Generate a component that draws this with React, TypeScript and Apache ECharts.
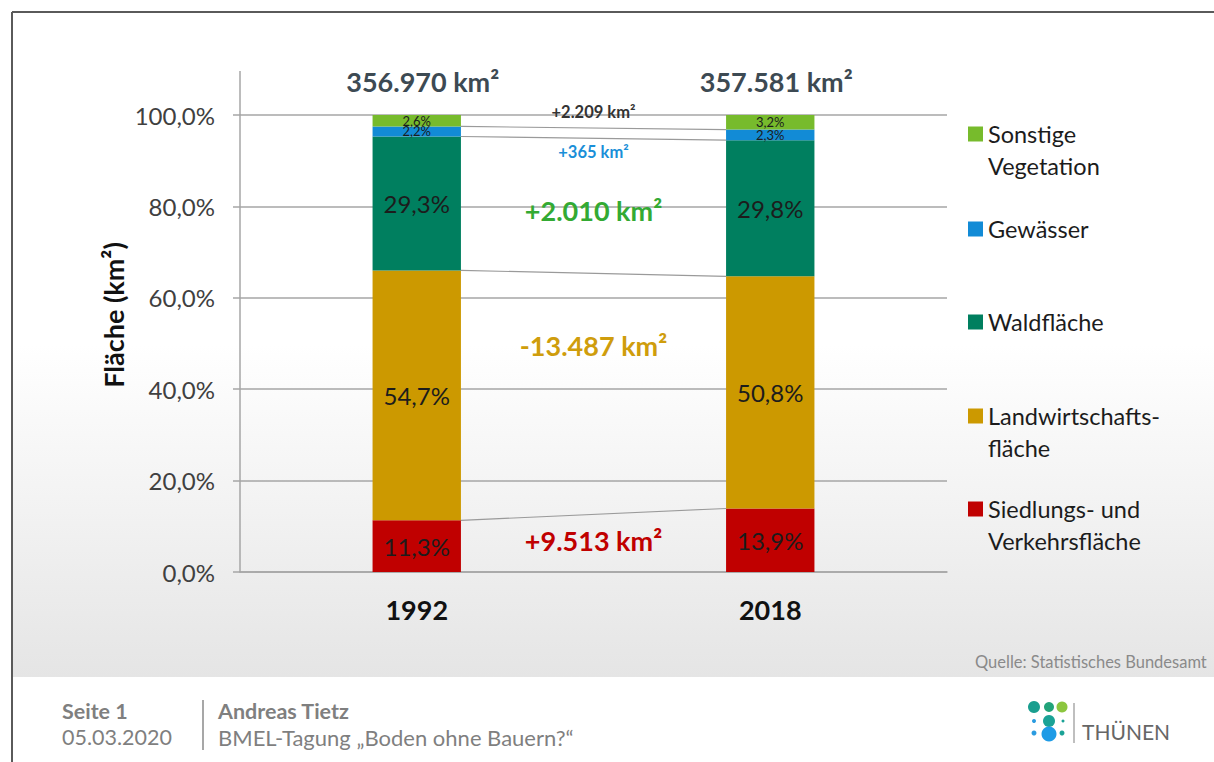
import React, { useEffect, useRef } from 'react';
import * as echarts from 'echarts';

// ---- data ----
const years = ['1992', '2018'];
const seriesNames = ['Siedlungs- und\nVerkehrsfläche', 'Landwirtschafts-\nfläche', 'Waldfläche', 'Gewässer', 'Sonstige\nVegetation'];
const siedlung = [11.3, 13.9];
const landwirtschaft = [54.7, 50.8];
const wald = [29.3, 29.8];
const gewaesser = [2.2, 2.3];
const sonstige = [2.6, 3.2];
const totals = ['356.970 km²', '357.581 km²'];
const changes = ['+9.513 km²', '-13.487 km²', '+2.010 km²', '+365 km²', '+2.209 km²'];
const yTicks = [0, 20, 40, 60, 80, 100];

// ---- styles / layout ----
const FONT = 'Lato, "Open Sans", sans-serif';
const seriesColors = ['#c00000', '#cc9900', '#007f5f', '#128bd6', '#77bb2c'];
const changeColors = ['#c00000', '#cf9d0c', '#33aa33', '#1a8fd8', '#333333'];
const changeSizes = [27, 27, 27, 16.5, 16.5];
const changeYPos = [6.8, 49.5, 79.0, 91.9, 100.6]; // label placement in axis units
const legendIconY = [134, 229, 322, 416, 509];

const fmtPct = (v: number) => v.toFixed(1).replace('.', ',') + '%';

export default function App() {
  const ref = useRef<HTMLDivElement>(null);

  useEffect(() => {
    if (!ref.current) return;
    const chart = echarts.init(ref.current, undefined, { renderer: 'svg' });
    const seriesData = [siedlung, landwirtschaft, wald, gewaesser, sonstige];

    // cumulative boundaries for connector lines
    const cum = years.map((_, i) => {
      let s = 0;
      return seriesData.map((arr) => (s += arr[i]));
    });
    const connectors = [0, 1, 2, 3].map((k) => [0, cum[0][k], cum[1][k]]);

    const barSeries = seriesData.map((arr, si) => ({
      name: seriesNames[si],
      type: 'bar',
      stack: 'total',
      barWidth: '25%',
      data: arr,
      itemStyle: { color: seriesColors[si] },
      label: {
        show: true,
        position: 'inside',
        formatter: (p: any) => fmtPct(p.value),
        color: '#1c1c1c',
        fontFamily: FONT,
        fontSize: si >= 3 ? 13 : 24,
      },
      z: 3,
    }));

    const legends = [4, 3, 2, 1, 0].map((si, k) => {
      const twoLine = seriesNames[si].includes('\n');
      const iy = legendIconY[k];
      return {
        orient: 'vertical',
        left: 968,
        top: twoLine ? iy - 48 : iy - 16,
        padding: 0,
        icon: 'rect',
        itemWidth: 15,
        itemHeight: 15,
        selectedMode: false,
        data: [seriesNames[si]],
        formatter: (name: string) => (name.includes('\n') ? '\u00a0\n' + name : name),
        textStyle: {
          fontFamily: FONT,
          fontSize: 23.5,
          color: '#1c1c1c',
          lineHeight: 32,
        },
      };
    });

    const option: any = {
      animation: false,
      graphic: [
        {
          type: 'rect',
          z: -100,
          silent: true,
          shape: { x: 12, y: 12, width: 1202, height: 665 },
          style: {
            fill: {
              type: 'linear', x: 0, y: 0, x2: 0, y2: 1,
              colorStops: [
                { offset: 0, color: '#ffffff' },
                { offset: 0.5, color: '#ffffff' },
                { offset: 1, color: '#e5e5e5' },
              ],
            },
          },
        },
        { type: 'line', silent: true, shape: { x1: 12, y1: 12, x2: 1214, y2: 12 }, style: { stroke: '#5a5a5a', lineWidth: 2 } },
        { type: 'line', silent: true, shape: { x1: 12, y1: 12, x2: 12, y2: 762 }, style: { stroke: '#5a5a5a', lineWidth: 2 } },
        { type: 'line', silent: true, shape: { x1: 240, y1: 71, x2: 240, y2: 115 }, style: { stroke: '#a6a6a6', lineWidth: 1.5 } },
        {
          type: 'text', x: 113, y: 315, rotation: Math.PI / 2,
          style: { text: 'Fläche (km²)', fill: '#111', fontFamily: FONT, fontSize: 27, fontWeight: 'bold', align: 'center', verticalAlign: 'middle' },
        },
        {
          type: 'text', x: 975, y: 662,
          style: { text: 'Quelle: Statistisches Bundesamt', fill: '#8a8a8a', fontFamily: FONT, fontSize: 16.5, align: 'left', verticalAlign: 'middle' },
        },
        // footer
        { type: 'text', x: 62, y: 711, style: { text: 'Seite 1', fill: '#7f7f7f', fontFamily: FONT, fontSize: 21.5, fontWeight: 'bold', verticalAlign: 'middle' } },
        { type: 'text', x: 62, y: 737, style: { text: '05.03.2020', fill: '#7f7f7f', fontFamily: FONT, fontSize: 21.5, verticalAlign: 'middle' } },
        { type: 'line', silent: true, shape: { x1: 203, y1: 700, x2: 203, y2: 750 }, style: { stroke: '#8a8a8a', lineWidth: 1.5 } },
        { type: 'text', x: 218, y: 711, style: { text: 'Andreas Tietz', fill: '#7f7f7f', fontFamily: FONT, fontSize: 21.5, fontWeight: 'bold', verticalAlign: 'middle' } },
        { type: 'text', x: 218, y: 737, style: { text: 'BMEL-Tagung „Boden ohne Bauern?“', fill: '#7f7f7f', fontFamily: FONT, fontSize: 22, verticalAlign: 'middle' } },
        // logo
        { type: 'circle', shape: { cx: 1034, cy: 707, r: 6 }, style: { fill: '#1a9e8f' } },
        { type: 'circle', shape: { cx: 1049, cy: 707, r: 5 }, style: { fill: '#22a37a' } },
        { type: 'circle', shape: { cx: 1062, cy: 707, r: 5.5 }, style: { fill: '#8cc63f' } },
        { type: 'circle', shape: { cx: 1034, cy: 721, r: 2 }, style: { fill: '#2a9be0' } },
        { type: 'circle', shape: { cx: 1049, cy: 721, r: 6 }, style: { fill: '#1aa296' } },
        { type: 'circle', shape: { cx: 1063, cy: 721, r: 1.5 }, style: { fill: '#1aa296' } },
        { type: 'circle', shape: { cx: 1034, cy: 733, r: 2.5 }, style: { fill: '#2a9be0' } },
        { type: 'circle', shape: { cx: 1049, cy: 734, r: 7.5 }, style: { fill: '#1e9be6' } },
        { type: 'circle', shape: { cx: 1062, cy: 733, r: 2.5 }, style: { fill: '#1aa296' } },
        { type: 'line', shape: { x1: 1074, y1: 703, x2: 1074, y2: 743 }, style: { stroke: '#aaaaaa', lineWidth: 1.5 } },
        { type: 'text', x: 1082, y: 731, style: { text: 'THÜNEN', fill: '#666', fontFamily: FONT, fontSize: 21, verticalAlign: 'middle' } },
      ],
      legend: legends,
      grid: { left: 240, right: 267, top: 115, bottom: 190, containLabel: false },
      xAxis: {
        type: 'category',
        data: years,
        axisLine: { lineStyle: { color: '#a6a6a6', width: 1.5 } },
        axisTick: { show: false },
        axisLabel: { color: '#111', fontFamily: FONT, fontSize: 27, fontWeight: 'bold', margin: 24 },
      },
      yAxis: {
        type: 'value',
        min: yTicks[0],
        max: yTicks[yTicks.length - 1],
        interval: yTicks[1] - yTicks[0],
        axisLine: { show: true, lineStyle: { color: '#a6a6a6', width: 1.5 } },
        axisTick: { show: true, length: 7, lineStyle: { color: '#a6a6a6', width: 1.5 } },
        splitLine: { show: true, lineStyle: { color: '#a6a6a6', width: 1.5 } },
        axisLabel: { color: '#404040', fontFamily: FONT, fontSize: 24, margin: 25, formatter: (v: number) => fmtPct(v) },
      },
      series: [
        ...barSeries,
        {
          type: 'custom',
          name: 'connectors',
          data: connectors,
          encode: { x: 0, y: [1, 2] },
          z: 1,
          silent: true,
          renderItem: (params: any, api: any) => {
            const p0 = api.coord([0, api.value(1)]);
            const p1 = api.coord([1, api.value(2)]);
            const half = api.size([1, 0])[0] * 0.125;
            return {
              type: 'line',
              shape: { x1: p0[0] + half, y1: p0[1], x2: p1[0] - half, y2: p1[1] },
              style: { stroke: '#9a9a9a', lineWidth: 1.2 },
            };
          },
        },
        {
          type: 'custom',
          name: 'changes',
          data: changeYPos.map((y) => [0, y]),
          encode: { x: 0, y: 1 },
          z: 5,
          silent: true,
          renderItem: (params: any, api: any) => {
            const i = params.dataIndex;
            const p0 = api.coord([0, api.value(1)]);
            const p1 = api.coord([1, api.value(1)]);
            return {
              type: 'text',
              x: (p0[0] + p1[0]) / 2,
              y: p0[1],
              style: {
                text: changes[i],
                fill: changeColors[i],
                fontFamily: FONT,
                fontSize: changeSizes[i],
                fontWeight: 'bold',
                align: 'center',
                verticalAlign: 'middle',
              },
            };
          },
        },
        {
          type: 'custom',
          name: 'totals',
          data: years.map((_, i) => [i, 100]),
          encode: { x: 0, y: 1 },
          z: 5,
          silent: true,
          renderItem: (params: any, api: any) => {
            const p = api.coord([api.value(0), api.value(1)]);
            return {
              type: 'text',
              x: p[0] + 6,
              y: p[1] - 34,
              style: {
                text: totals[params.dataIndex],
                fill: '#3d4a53',
                fontFamily: FONT,
                fontSize: 27,
                fontWeight: 'bold',
                align: 'center',
                verticalAlign: 'middle',
              },
            };
          },
        },
      ],
    };

    chart.setOption(option);
    return () => chart.dispose();
  }, []);

  return (
    <div
      ref={ref}
      style={{ position: 'absolute', left: 0, top: 0, width: 1214, height: 762, background: '#ffffff' }}
    />
  );
}
